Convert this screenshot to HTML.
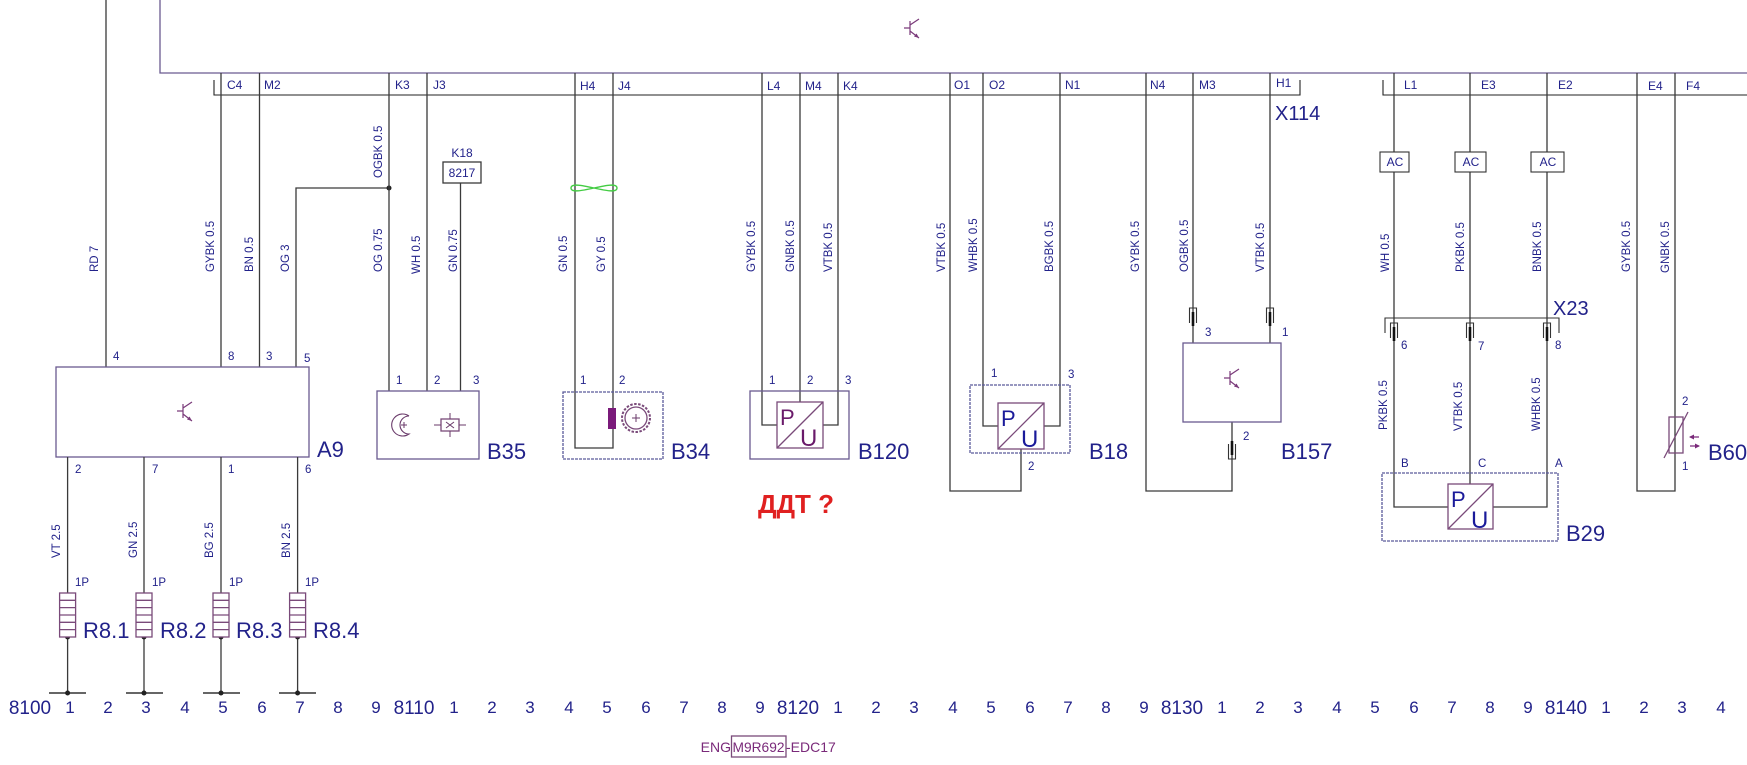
<!DOCTYPE html>
<html><head><meta charset="utf-8"><style>
html,body{margin:0;padding:0;background:#fff}
svg{display:block}
text{font-family:"Liberation Sans",sans-serif;fill:#22228a}
.s{font-size:11.5px}
.h{font-size:12px}
.big{font-size:22px}
.num{font-size:17px}
.w{stroke:#3a3a3a;stroke-width:1.3;fill:none}
.bx{stroke:#6a5a90;stroke-width:1.3;fill:none}
.dbx{stroke:#5a5a9a;stroke-width:1.3;fill:none;stroke-dasharray:3,1}
.pu{stroke:#7a4a7a;stroke-width:1.3;fill:none}
</style></head><body>
<svg width="1747" height="765" viewBox="0 0 1747 765" xmlns="http://www.w3.org/2000/svg">
<defs>
<g id="tr"><path d="M0,0 v14 M-6,7 h6 M0,4 L9,-2 M0,10 L9,17" stroke="#7a3a7a" stroke-width="1.2" fill="none"/><path d="M9,17 l-5,-1.5 l2.5,-3 z" fill="#7a3a7a"/></g>
<g id="cu"><path d="M-3.5,15 V0 H3.5 V15" stroke="#333" stroke-width="1.1" fill="none"/><path d="M0,4 V18" stroke="#111" stroke-width="2.6"/></g>
<g id="cd"><path d="M-3.5,0 V15 H3.5 V0" stroke="#333" stroke-width="1.1" fill="none"/><path d="M0,-3 V11" stroke="#111" stroke-width="2.6"/></g>
</defs>

<path d="M160,0 V73 H1747" class="bx"/>
<use href="#tr" x="910" y="21"/>
<path d="M214,80 V95 H1300 V80" stroke="#222" stroke-width="1.1" fill="none"/>
<path d="M1383,80 V95 H1747" stroke="#222" stroke-width="1.1" fill="none"/>
<path d="M106,0 V367" class="w"/>

<g class="h">
<text x="227" y="89">C4</text><text x="264" y="89">M2</text>
<text x="395" y="89">K3</text><text x="433" y="89">J3</text>
<text x="580" y="90">H4</text><text x="618" y="90">J4</text>
<text x="767" y="90">L4</text><text x="805" y="90">M4</text><text x="843" y="90">K4</text>
<text x="954" y="89">O1</text><text x="989" y="89">O2</text><text x="1065" y="89">N1</text>
<text x="1150" y="89">N4</text><text x="1199" y="89">M3</text><text x="1276" y="87">H1</text>
<text x="1404" y="89">L1</text><text x="1481" y="89">E3</text><text x="1558" y="89">E2</text>
<text x="1648" y="90">E4</text><text x="1686" y="90">F4</text>
</g>
<text x="1275" y="120" style="font-size:20px">X114</text>

<path d="M221,73 V367 M259.5,73 V367 M296,367 V188 H389" class="w"/>
<circle cx="389" cy="188" r="2.5" fill="#222"/>
<rect x="56" y="367" width="253" height="90" class="bx"/>
<use href="#tr" x="183" y="404"/>
<text x="317" y="457" class="big">A9</text>
<g class="s"><text x="113" y="360">4</text><text x="228" y="360">8</text><text x="266" y="360">3</text><text x="304" y="362">5</text>
<text x="75" y="473">2</text><text x="152" y="473">7</text><text x="228" y="473">1</text><text x="305" y="473">6</text></g>

<g>
<path d="M67.6,457 V693 M144,457 V693 M221,457 V693 M297.6,457 V693" class="w"/>
<path d="M49,693 H86 M126,693 H163 M203,693 H240 M279,693 H316" stroke="#333" stroke-width="1.6"/>
<g fill="#222"><circle cx="67.6" cy="693" r="2.5"/><circle cx="144" cy="693" r="2.5"/><circle cx="221" cy="693" r="2.5"/><circle cx="297.6" cy="693" r="2.5"/>
<circle cx="67.6" cy="637" r="2.5"/><circle cx="144" cy="637" r="2.5"/><circle cx="221" cy="637" r="2.5"/><circle cx="297.6" cy="637" r="2.5"/></g>
<g class="pu" fill="#fff">
<rect x="59.6" y="593" width="16" height="44" fill="#fff"/><path d="M59.6,600.3h16M59.6,607.6h16M59.6,615h16M59.6,622.3h16M59.6,629.6h16"/>
<rect x="136" y="593" width="16" height="44" fill="#fff"/><path d="M136,600.3h16M136,607.6h16M136,615h16M136,622.3h16M136,629.6h16"/>
<rect x="213" y="593" width="16" height="44" fill="#fff"/><path d="M213,600.3h16M213,607.6h16M213,615h16M213,622.3h16M213,629.6h16"/>
<rect x="289.6" y="593" width="16" height="44" fill="#fff"/><path d="M289.6,600.3h16M289.6,607.6h16M289.6,615h16M289.6,622.3h16M289.6,629.6h16"/>
</g>
<g class="s"><text x="75" y="586">1P</text><text x="152" y="586">1P</text><text x="229" y="586">1P</text><text x="305" y="586">1P</text></g>
<g class="big"><text x="83" y="638">R8.1</text><text x="160" y="638">R8.2</text><text x="236" y="638">R8.3</text><text x="313" y="638">R8.4</text></g>
</g>

<path d="M389,73 V391 M427,73 V391 M460.5,183 V391" class="w"/>
<rect x="443" y="162" width="38" height="21" class="w" stroke="#444"/>
<text x="462" y="177" class="h" text-anchor="middle">8217</text>
<text x="462" y="157" class="h" text-anchor="middle">K18</text>
<rect x="377" y="391" width="102" height="68" class="bx"/>
<path d="M409,416 A11,11 0 1 0 409,434 A5,5 0 0 1 409,416" stroke="#6a3a6a" stroke-width="1.1" fill="none"/>
<path d="M401,425 h6 M404,422 v6" stroke="#6a3a6a" stroke-width="1"/>
<rect x="441" y="419" width="18" height="12" class="pu"/>
<path d="M434,425 h7 M459,425 h7 M450,413 v6 M450,431 v6 M446,422 l8,6 M454,422 l-8,6" stroke="#6a3a6a" stroke-width="1"/>
<g class="s"><text x="396" y="384">1</text><text x="434" y="384">2</text><text x="473" y="384">3</text></g>
<text x="487" y="459" class="big">B35</text>

<path d="M575,73 V448 H613 V73" class="w"/>
<path d="M571,188 C571,178 617,198 617,188 C617,178 571,198 571,188 Z" stroke="#4c4" stroke-width="1.4" fill="none"/>
<rect x="563" y="392" width="100" height="67" class="dbx"/>
<rect x="608" y="408" width="8" height="21" fill="#7a1a7a"/>
<circle cx="636" cy="418" r="11" class="pu"/>
<circle cx="636" cy="418" r="14" stroke="#7a4a7a" stroke-width="2" fill="none" stroke-dasharray="2.5,1.5"/>
<path d="M632,418 h8 M636,414 v8" stroke="#6a3a6a" stroke-width="1"/>
<g class="s"><text x="580" y="384">1</text><text x="619" y="384">2</text></g>
<text x="671" y="459" class="big">B34</text>

<path d="M762,73 V425 H777 M838,73 V425 H823 M800,73 V402" class="w"/>
<rect x="750" y="391" width="99" height="68" class="bx"/>
<rect x="777" y="402" width="46" height="46" class="pu"/>
<path d="M777,448 L823,402" class="pu"/>
<text x="780" y="425" style="font-size:22px;fill:#6a1a6a">P</text>
<text x="800" y="446" style="font-size:24px;fill:#6a1a6a">U</text>
<g class="s"><text x="769" y="384">1</text><text x="807" y="384">2</text><text x="845" y="384">3</text></g>
<text x="858" y="459" class="big">B120</text>
<text x="758" y="513" style="font-size:26px;font-weight:bold;fill:#e02020">ДДТ ?</text>

<path d="M983,73 V426 H998 M1060,73 V426 H1044 M950,73 V491 H1021 V449" class="w"/>
<rect x="970" y="385" width="100" height="68" class="dbx"/>
<rect x="998" y="403" width="46" height="46" class="pu" fill="#fff"/>
<path d="M998,449 L1044,403" class="pu"/>
<text x="1001" y="426" style="font-size:22px;fill:#1a1a9a">P</text>
<text x="1021" y="447" style="font-size:24px;fill:#1a1a9a">U</text>
<g class="s"><text x="991" y="377">1</text><text x="1068" y="378">3</text><text x="1028" y="470">2</text></g>
<text x="1089" y="459" class="big">B18</text>

<path d="M1146,73 V491 H1232 V422 M1193,73 V343 M1270,73 V343" class="w"/>
<use href="#cu" x="1193" y="308"/><use href="#cu" x="1270" y="308"/>
<use href="#cd" x="1232" y="444"/>
<rect x="1183" y="343" width="98" height="79" class="bx"/>
<use href="#tr" x="1230" y="371"/>
<g class="s"><text x="1205" y="336">3</text><text x="1282" y="336">1</text><text x="1243" y="440">2</text></g>
<text x="1281" y="459" class="big">B157</text>

<path d="M1394,73 V507 H1448 M1547,73 V507 H1493 M1470,73 V484" class="w"/>
<g fill="#fff" stroke="#333" stroke-width="1.1">
<rect x="1380" y="152" width="29" height="20"/><rect x="1455" y="152" width="31" height="20"/><rect x="1531" y="152" width="33" height="20"/>
</g>
<g class="h" text-anchor="middle"><text x="1395" y="166">AC</text><text x="1471" y="166">AC</text><text x="1548" y="166">AC</text></g>
<path d="M1385,333 V318 H1559 V333" stroke="#333" stroke-width="1.1" fill="none"/>
<use href="#cu" x="1394" y="323"/><use href="#cu" x="1470" y="323"/><use href="#cu" x="1547" y="323"/>
<g class="s"><text x="1401" y="349">6</text><text x="1478" y="350">7</text><text x="1555" y="349">8</text>
<text x="1401" y="467">B</text><text x="1478" y="467">C</text><text x="1555" y="467">A</text></g>
<text x="1553" y="315" style="font-size:20px">X23</text>
<rect x="1382" y="473" width="176" height="68" class="dbx"/>
<rect x="1448" y="484" width="45" height="45" class="pu" fill="#fff"/>
<path d="M1448,529 L1493,484" class="pu"/>
<text x="1451" y="507" style="font-size:22px;fill:#1a1a9a">P</text>
<text x="1471" y="528" style="font-size:24px;fill:#1a1a9a">U</text>
<text x="1566" y="541" class="big">B29</text>

<path d="M1637,73 V491 H1675 V73" class="w"/>
<rect x="1669" y="417" width="14" height="36" class="pu" fill="#fff"/>
<path d="M1664,458 L1688,412" class="pu"/>
<path d="M1690,437 h9 M1690,446 h9" stroke="#7a2a7a" stroke-width="1.2"/>
<path d="M1689,437 l5,-2.5 v5 z M1700,446 l-5,-2.5 v5 z" fill="#7a2a7a"/>
<g class="s"><text x="1682" y="405">2</text><text x="1682" y="470">1</text></g>
<text x="1708" y="460" class="big">B60</text>

<g class="s">
<text transform="translate(98,272) rotate(-90)">RD 7</text>
<text transform="translate(214,272) rotate(-90)">GYBK 0.5</text>
<text transform="translate(253,272) rotate(-90)">BN 0.5</text>
<text transform="translate(289,272) rotate(-90)">OG 3</text>
<text transform="translate(382,178) rotate(-90)">OGBK 0.5</text>
<text transform="translate(382,272) rotate(-90)">OG 0.75</text>
<text transform="translate(420,274) rotate(-90)">WH 0.5</text>
<text transform="translate(457,272) rotate(-90)">GN 0.75</text>
<text transform="translate(567,272) rotate(-90)">GN 0.5</text>
<text transform="translate(605,272) rotate(-90)">GY 0.5</text>
<text transform="translate(755,272) rotate(-90)">GYBK 0.5</text>
<text transform="translate(794,272) rotate(-90)">GNBK 0.5</text>
<text transform="translate(832,272) rotate(-90)">VTBK 0.5</text>
<text transform="translate(945,272) rotate(-90)">VTBK 0.5</text>
<text transform="translate(977,272) rotate(-90)">WHBK 0.5</text>
<text transform="translate(1053,272) rotate(-90)">BGBK 0.5</text>
<text transform="translate(1139,272) rotate(-90)">GYBK 0.5</text>
<text transform="translate(1188,272) rotate(-90)">OGBK 0.5</text>
<text transform="translate(1264,272) rotate(-90)">VTBK 0.5</text>
<text transform="translate(1389,272) rotate(-90)">WH 0.5</text>
<text transform="translate(1464,272) rotate(-90)">PKBK 0.5</text>
<text transform="translate(1541,272) rotate(-90)">BNBK 0.5</text>
<text transform="translate(1630,272) rotate(-90)">GYBK 0.5</text>
<text transform="translate(1669,273) rotate(-90)">GNBK 0.5</text>
<text transform="translate(1387,430) rotate(-90)">PKBK 0.5</text>
<text transform="translate(1462,431) rotate(-90)">VTBK 0.5</text>
<text transform="translate(1540,431) rotate(-90)">WHBK 0.5</text>
<text transform="translate(60,558) rotate(-90)">VT 2.5</text>
<text transform="translate(137,558) rotate(-90)">GN 2.5</text>
<text transform="translate(213,558) rotate(-90)">BG 2.5</text>
<text transform="translate(290,558) rotate(-90)">BN 2.5</text>
</g>

<g class="num" text-anchor="middle">
<text x="30" y="714" style="font-size:19px">8100</text>
<text x="70" y="713">1</text><text x="108" y="713">2</text><text x="146" y="713">3</text><text x="185" y="713">4</text><text x="223" y="713">5</text><text x="262" y="713">6</text><text x="300" y="713">7</text><text x="338" y="713">8</text><text x="376" y="713">9</text>
<text x="414" y="714" style="font-size:19px">8110</text>
<text x="454" y="713">1</text><text x="492" y="713">2</text><text x="530" y="713">3</text><text x="569" y="713">4</text><text x="607" y="713">5</text><text x="646" y="713">6</text><text x="684" y="713">7</text><text x="722" y="713">8</text><text x="760" y="713">9</text>
<text x="798" y="714" style="font-size:19px">8120</text>
<text x="838" y="713">1</text><text x="876" y="713">2</text><text x="914" y="713">3</text><text x="953" y="713">4</text><text x="991" y="713">5</text><text x="1030" y="713">6</text><text x="1068" y="713">7</text><text x="1106" y="713">8</text><text x="1144" y="713">9</text>
<text x="1182" y="714" style="font-size:19px">8130</text>
<text x="1222" y="713">1</text><text x="1260" y="713">2</text><text x="1298" y="713">3</text><text x="1337" y="713">4</text><text x="1375" y="713">5</text><text x="1414" y="713">6</text><text x="1452" y="713">7</text><text x="1490" y="713">8</text><text x="1528" y="713">9</text>
<text x="1566" y="714" style="font-size:19px">8140</text>
<text x="1606" y="713">1</text><text x="1644" y="713">2</text><text x="1682" y="713">3</text><text x="1721" y="713">4</text>
</g>
<g style="font-size:14px">
<text x="731" y="752" text-anchor="end" style="fill:#7a2a7a">ENG</text>
<text x="758.5" y="752" text-anchor="middle" style="fill:#7a2a7a" textLength="52" lengthAdjust="spacingAndGlyphs">M9R692</text>
<text x="786" y="752" style="fill:#7a2a7a">-EDC17</text>
</g>
<rect x="731.5" y="736" width="54.5" height="21" class="pu"/>
</svg>
</body></html>
